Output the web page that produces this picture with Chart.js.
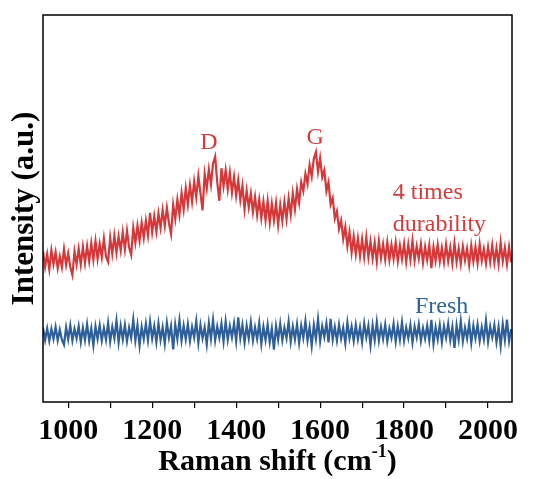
<!DOCTYPE html>
<html>
<head>
<meta charset="utf-8">
<script src="https://cdn.jsdelivr.net/npm/chart.js@4/dist/chart.umd.min.js"></script>
<style>
  html, body { margin: 0; padding: 0; background: #fff; }
  #wrap { width: 535px; height: 479px; position: relative; }
</style>
</head>
<body>
<div id="wrap"><canvas id="raman"></canvas></div>
<script>
// Raman shift (cm-1), one sample every 5 cm-1
const ramanShift = [
  940, 945, 950, 955, 960, 965, 970, 975, 980, 985,
  990, 995, 1000, 1005, 1010, 1015, 1020, 1025, 1030, 1035,
  1040, 1045, 1050, 1055, 1060, 1065, 1070, 1075, 1080, 1085,
  1090, 1095, 1100, 1105, 1110, 1115, 1120, 1125, 1130, 1135,
  1140, 1145, 1150, 1155, 1160, 1165, 1170, 1175, 1180, 1185,
  1190, 1195, 1200, 1205, 1210, 1215, 1220, 1225, 1230, 1235,
  1240, 1245, 1250, 1255, 1260, 1265, 1270, 1275, 1280, 1285,
  1290, 1295, 1300, 1305, 1310, 1315, 1320, 1325, 1330, 1335,
  1340, 1345, 1350, 1355, 1360, 1365, 1370, 1375, 1380, 1385,
  1390, 1395, 1400, 1405, 1410, 1415, 1420, 1425, 1430, 1435,
  1440, 1445, 1450, 1455, 1460, 1465, 1470, 1475, 1480, 1485,
  1490, 1495, 1500, 1505, 1510, 1515, 1520, 1525, 1530, 1535,
  1540, 1545, 1550, 1555, 1560, 1565, 1570, 1575, 1580, 1585,
  1590, 1595, 1600, 1605, 1610, 1615, 1620, 1625, 1630, 1635,
  1640, 1645, 1650, 1655, 1660, 1665, 1670, 1675, 1680, 1685,
  1690, 1695, 1700, 1705, 1710, 1715, 1720, 1725, 1730, 1735,
  1740, 1745, 1750, 1755, 1760, 1765, 1770, 1775, 1780, 1785,
  1790, 1795, 1800, 1805, 1810, 1815, 1820, 1825, 1830, 1835,
  1840, 1845, 1850, 1855, 1860, 1865, 1870, 1875, 1880, 1885,
  1890, 1895, 1900, 1905, 1910, 1915, 1920, 1925, 1930, 1935,
  1940, 1945, 1950, 1955, 1960, 1965, 1970, 1975, 1980, 1985,
  1990, 1995, 2000, 2005, 2010, 2015, 2020, 2025, 2030, 2035,
  2040, 2045, 2050, 2055
];

// intensity (a.u., offset for display) after 4 durability runs
const durability4 = [
  38.9, 34.9, 38.2, 34.3, 39.2, 35.6, 38.7, 34.6, 37.6, 34.8,
  39.5, 35.4, 38.4, 34.9, 32.8, 38.9, 35.6, 39.6, 35.5, 40.1,
  35.9, 40.3, 36.4, 41.0, 36.8, 41.6, 37.0, 40.9, 37.4, 42.2,
  37.6, 36.2, 42.5, 38.3, 43.0, 38.6, 42.8, 39.2, 43.9, 39.4,
  44.3, 40.0, 38.0, 45.0, 41.2, 45.6, 41.7, 46.3, 42.4, 46.8,
  43.0, 48.9, 43.9, 48.0, 44.0, 48.7, 45.0, 49.6, 45.5, 50.2,
  46.2, 43.4, 51.0, 47.3, 52.3, 48.4, 54.0, 49.8, 55.2, 51.0,
  56.0, 51.8, 57.0, 52.9, 58.4, 54.0, 49.5, 58.9, 55.2, 60.1,
  56.2, 61.6, 63.4, 56.8, 52.0, 60.4, 55.8, 59.9, 55.0, 59.3,
  54.1, 58.2, 53.3, 57.3, 52.2, 55.9, 49.8, 54.6, 50.3, 53.9,
  49.1, 53.0, 48.3, 52.3, 47.5, 51.7, 47.0, 51.9, 46.4, 51.2,
  47.0, 51.4, 45.8, 50.9, 46.8, 51.7, 47.3, 52.6, 48.4, 53.9,
  49.8, 55.0, 51.5, 56.8, 54.5, 59.0, 56.4, 61.3, 58.3, 62.9,
  64.6, 59.5, 63.0, 58.1, 59.9, 54.5, 56.8, 51.0, 52.7, 47.4,
  49.3, 44.7, 46.9, 42.1, 45.2, 40.2, 43.9, 38.6, 42.8, 38.2,
  42.3, 37.7, 42.1, 37.5, 42.6, 37.4, 41.5, 37.1, 41.2, 36.3,
  41.6, 37.2, 40.8, 36.8, 41.3, 36.7, 40.6, 37.0, 41.2, 36.4,
  40.4, 36.9, 40.9, 36.2, 40.7, 36.8, 41.7, 36.6, 40.3, 37.1,
  40.8, 36.0, 40.1, 36.7, 40.5, 34.6, 40.0, 36.5, 40.6, 36.3,
  39.8, 36.1, 40.7, 36.4, 39.9, 35.8, 41.0, 36.2, 39.7, 35.7,
  40.2, 36.6, 39.6, 35.4, 40.4, 36.3, 40.1, 35.9, 40.8, 36.5,
  39.5, 35.8, 40.0, 36.2, 40.5, 36.0, 39.8, 35.7, 41.2, 36.4,
  39.9, 35.6, 40.1, 36.1
];

// intensity of the fresh catalyst
const fresh = [
  19.2, 16.0, 19.0, 15.8, 18.9, 16.3, 19.4, 15.9, 18.7, 16.1,
  14.8, 19.3, 16.2, 19.8, 15.9, 18.9, 16.4, 19.6, 15.5, 19.2,
  16.0, 20.1, 15.8, 19.0, 14.6, 19.5, 16.3, 19.8, 15.9, 19.1,
  16.1, 20.4, 15.6, 19.4, 16.5, 21.0, 15.4, 19.7, 16.2, 19.9,
  15.7, 19.2, 16.6, 21.3, 15.9, 19.9, 14.6, 19.4, 16.3, 20.2,
  16.0, 20.8, 16.4, 19.6, 15.5, 20.3, 16.1, 19.3, 15.1, 20.5,
  16.6, 19.6, 13.6, 20.0, 16.3, 21.1, 15.9, 19.7, 16.2, 20.1,
  15.8, 19.4, 16.7, 20.9, 15.3, 19.9, 16.5, 19.3, 14.9, 20.4,
  16.3, 21.2, 15.9, 19.5, 16.6, 20.2, 15.6, 20.8, 16.1, 19.6,
  16.7, 20.3, 15.7, 21.9, 16.5, 19.9, 15.4, 19.7, 16.4, 20.6,
  15.9, 19.3, 16.3, 20.4, 15.0, 19.4, 16.0, 20.0, 15.5, 19.0,
  13.5, 19.6, 16.1, 20.2, 15.9, 19.2, 16.5, 20.8, 15.6, 19.5,
  16.2, 20.1, 15.3, 19.7, 16.6, 20.9, 15.9, 19.3, 14.5, 19.9,
  16.3, 21.4, 15.7, 19.6, 16.8, 20.3, 15.4, 21.5, 16.1, 19.4,
  15.9, 20.0, 16.4, 19.2, 15.2, 20.5, 16.5, 19.5, 15.8, 19.9,
  16.2, 19.3, 15.5, 20.3, 16.7, 19.7, 14.7, 19.8, 16.0, 20.7,
  15.9, 19.4, 16.3, 20.0, 15.7, 19.0, 16.6, 20.2, 15.6, 19.6,
  16.1, 20.6, 15.9, 19.2, 16.5, 19.9, 15.4, 19.5, 16.7, 20.1,
  15.8, 19.1, 16.4, 19.7, 15.9, 21.2, 15.1, 19.3, 16.2, 19.9,
  15.5, 19.6, 16.6, 20.2, 15.9, 19.4, 14.0, 19.8, 16.1, 20.9,
  15.7, 19.2, 16.4, 20.4, 15.3, 19.7, 16.5, 20.0, 15.8, 19.3,
  16.2, 21.0, 15.6, 19.5, 16.7, 19.9, 15.5, 19.4, 14.5, 20.1,
  16.0, 21.3, 15.7, 18.8
];

// text labels placed in data coordinates
const peakLabels = [
  { text: 'D', x: 1335, y: 67, color: '#d23c3c', align: 'center' },
  { text: 'G', x: 1588, y: 68.3, color: '#d23c3c', align: 'center' },
  { text: '4 times', x: 1773, y: 54, color: '#d23c3c', align: 'left' },
  { text: 'durability', x: 1773, y: 45.7, color: '#d23c3c', align: 'left' },
  { text: 'Fresh', x: 1826, y: 24.6, color: '#2f639e', align: 'left' }
];

const serif = '"Liberation Serif", "Times New Roman", serif';

const framePlugin = {
  id: 'frame',
  afterDraw(chart) {
    const { ctx, chartArea: a, scales } = chart;
    ctx.save();
    ctx.strokeStyle = '#000';
    ctx.lineWidth = 1.5;
    ctx.strokeRect(a.left, a.top, a.right - a.left, a.bottom - a.top);

    // peak / series labels
    ctx.font = '24px ' + serif;
    ctx.textBaseline = 'middle';
    peakLabels.forEach(l => {
      ctx.fillStyle = l.color;
      ctx.textAlign = l.align;
      ctx.fillText(l.text, scales.x.getPixelForValue(l.x), scales.y.getPixelForValue(l.y));
    });

    // x title with superscript
    const main = 'Raman shift (cm';
    const sup = '-1';
    const close = ')';
    ctx.fillStyle = '#000';
    ctx.textAlign = 'left';
    ctx.textBaseline = 'alphabetic';
    const big = 'bold 30px ' + serif;
    const small = 'bold 18px ' + serif;
    ctx.font = big;
    const w1 = ctx.measureText(main).width;
    const w3 = ctx.measureText(close).width;
    ctx.font = small;
    const w2 = ctx.measureText(sup).width;
    const total = w1 + w2 + w3;
    let x = (a.left + a.right) / 2 - total / 2;
    const base = 470;
    ctx.font = big;
    ctx.fillText(main, x, base);
    x += w1;
    ctx.font = small;
    ctx.fillText(sup, x, base - 13);
    x += w2;
    ctx.font = big;
    ctx.fillText(close, x, base);
    ctx.restore();
  }
};

const createRamanChart = () => {
  const ctx = document.getElementById('raman').getContext('2d');

  const data = {
    datasets: [
      {
        label: '4 times durability',
        data: ramanShift.map((s, i) => ({ x: s, y: durability4[i] })),
        borderColor: '#d3393a',
        borderWidth: 2.2,
        pointRadius: 0,
        tension: 0
      },
      {
        label: 'Fresh',
        data: ramanShift.map((s, i) => ({ x: s, y: fresh[i] })),
        borderColor: '#2e5f98',
        borderWidth: 2.2,
        pointRadius: 0,
        tension: 0
      }
    ]
  };

  const options = {
    responsive: true,
    maintainAspectRatio: false,
    animation: false,
    layout: { padding: { top: 15, right: 23, left: 0, bottom: 0 } },
    plugins: {
      legend: { display: false },
      tooltip: { enabled: false }
    },
    scales: {
      x: {
        type: 'linear',
        min: 940,
        max: 2057,
        border: { display: false },
        grid: { drawOnChartArea: false, drawTicks: true, tickLength: 6, color: '#000', lineWidth: 1.2 },
        ticks: {
          stepSize: 100,
          includeBounds: false,
          autoSkip: false,
          maxRotation: 0,
          padding: 5,
          color: '#000',
          font: { family: serif, size: 30, weight: 'bold' },
          callback: (v) => (v % 200 === 0 ? String(v) : '')
        },
        afterFit: (scale) => { scale.height = 77; }
      },
      y: {
        min: 0,
        max: 100,
        border: { display: false },
        grid: { display: false },
        ticks: { display: false },
        title: {
          display: true,
          text: 'Intensity (a.u.)',
          color: '#000',
          font: { family: serif, size: 31, weight: 'bold' },
          padding: { top: 6, bottom: 0 }
        },
        afterFit: (scale) => { scale.width = 43; }
      }
    }
  };

  new Chart(ctx, { type: 'line', data: data, options: options, plugins: [framePlugin] });
};

window.onload = () => {
  createRamanChart();
};
</script>
</body>
</html>
